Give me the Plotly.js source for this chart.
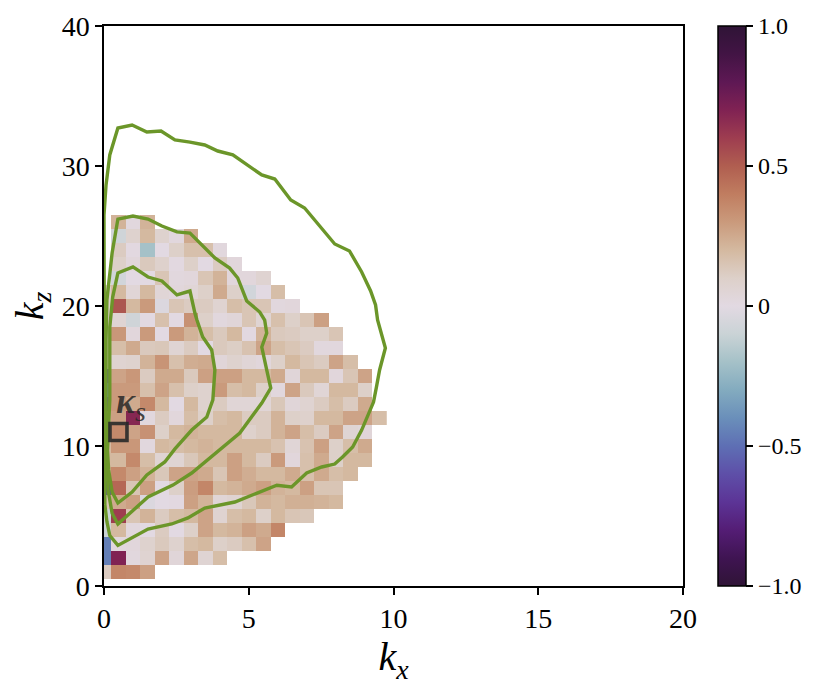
<!DOCTYPE html>
<html>
<head>
<meta charset="utf-8">
<script src="https://cdn.plot.ly/plotly-3.0.1.min.js"></script>
<style>html,body{margin:0;padding:0;background:#fff}</style>
</head>
<body>
<div id="chart" style="width:830px;height:687px"></div>
<script>
var kxCells = [0,0.5,1,1.5,2,2.5,3,3.5,4,4.5,5,5.5,6,6.5,7,7.5,8,8.5,9,9.5];
var kzCells = [1,2,3,4,5,6,7,8,9,10,11,12,13,14,15,16,17,18,19,20,21,22,23,24,25,26];

// one row per kz, starting at kz = 1, rows stop where the data stops
var cellRows = [
  [.12,.37,.36,.28],
  [-.45,.7,.02,.07,.27,.04,.26,.06,.18],
  [-.45,.02,.03,.08,.13,.08,.18,.2,.1,.12,.17,.27],
  [-.1,.2,.02,0,.12,0,.1,.27,.2,.22,.28,.25,.37],
  [-.1,.6,.15,.22,.12,.18,.2,.27,.07,.18,.2,.1,.2,.15,.14],
  [.15,.25,.28,-.03,0,.01,.28,.22,.05,.07,.14,.22,.2,.23,.23,.22,.2],
  [-.6,.47,.15,.28,0,.1,.29,.37,.2,.22,.25,.28,.22,.2,.28,.15,.15],
  [.25,.36,.28,.22,.14,.27,.27,.25,.15,.28,.24,.2,.2,.25,.17,.25,.18,.2],
  [.2,.2,.36,.18,.06,.06,.14,.2,.2,.28,.2,.12,.3,.03,.17,.25,.1,.2,.2],
  [.2,.31,.31,.02,.2,.18,.2,.22,.2,.2,.2,.2,.16,.05,.16,.28,.1,.18,.25],
  [.2,.36,.27,.33,.1,.2,.22,.2,.2,.2,.09,.12,.22,.27,.18,.12,.27,.06,.04],
  [.2,.28,.68,.02,.12,.03,.18,.1,.18,.2,.12,.12,.22,.1,.09,.2,.2,.27,.27,.18],
  [-.6,.3,.25,.36,.2,0,.2,.08,.12,.05,.05,.05,.14,.04,.07,.12,.18,.12,.25],
  [-.4,.3,.3,.17,.27,.17,.1,.08,.3,.18,.2,.1,.02,.27,.13,.05,.2,.2,.1],
  [-.6,.27,.31,.12,.25,.25,.13,.28,.28,.28,.2,.2,.25,.04,.2,.2,.03,.15,.27],
  [.1,.07,.08,.22,.32,.17,.24,.25,.04,.08,.05,.03,.1,.2,.15,.12,.27,.18],
  [.1,.18,.25,.13,.14,.06,.12,0,.13,.11,.16,.27,.18,.15,.12,.02,.02],
  [.1,.31,.03,.3,0,.3,.22,.18,.13,.2,.01,.22,.13,.12,.1,.1,.15],
  [.1,.06,-.08,0,.17,0,.33,.1,.02,.04,.15,.06,.17,.1,.15,.28],
  [.1,.52,.2,.3,-.03,.15,.12,.12,.07,.18,.15,.15,.02,.03],
  [.1,.2,.05,.2,.05,.03,.05,.1,.25,.1,-.07,0,.18],
  [null,-.07,0,0,.15,.02,.03,.15,.22,.03,.03,.07],
  [null,.1,.03,.13,.09,.01,.1,0,.12,.03],
  [null,.12,.01,-.2,0,.1,.17,.17,.02],
  [null,-.08,.08,.2,.08,.02,.25],
  [null,.22,.02,.22]
];

var outerKx = [.03,.1,.2,.48,1.52,2.34,2.9,3.48,4.52,5.38,5.97,6.48,7,7.52,7.97,8.24,8.59,8.9,9.1,9.31,9.41,9.52,9.72,9.59,9.45,9.38,9.21,8.9,8.48,7.97,7.45,6.93,6.45,5.9,5.45,4.97,4.45,3.93,3.48,2.97,2.45,1.97,1.48,.97,.48,.2,.07,0,0,.02,.03];
var outerKz = [5.8,4.6,3.6,2.9,4.07,4.43,4.86,5.57,6,6.71,7.2,7.07,8.07,8.5,8.71,9.21,9.93,11.14,12.07,13.14,14.21,15.43,17,18.07,19,20.07,21.07,22.43,23.93,24.43,25.71,27,27.57,29.07,29.36,30.07,30.79,31.07,31.5,31.71,31.86,32.5,32.43,32.93,32.71,30.79,28.64,26.5,20.4,9.7,5.8];

var middleKx = [.1,.14,.28,.48,1.52,2.38,3.03,3.66,4.69,5.45,5.76,5.62,5.45,5.62,5.55,5.38,4.93,4.62,4.34,3.83,3.38,2.97,2.52,2,1.52,1,.48,.28,.1,.07,.07,.1];
var middleKz = [9.71,6.86,5.2,4.43,6.36,7.21,8.07,9.14,10.93,13.07,14.14,15.43,17.07,18.07,19,19.57,20.36,22,22.71,23.43,24.36,25.21,25.29,25.71,26.21,26.43,26.21,23.79,20.43,17.57,13.29,9.71];

var innerKx = [.12,.16,.28,.48,.97,1.48,2.1,2.45,3.03,3.55,3.76,3.83,3.72,3.41,3.21,3.14,2.97,2.52,2,1.52,1,.48,.3,.2,.2,.2,.12];
var innerKz = [9.71,8.29,6.71,5.93,6.71,7.93,8.86,9.79,11.14,12.07,13.29,15.43,16.86,17.79,19,19.5,21.07,20.79,21.79,22.07,22.79,22.36,20.64,18.5,16.86,13.29,9.71];

var kappaKx = [0.5];
var kappaKz = [11];

var colorbarVals = [-1,-0.5,0,0.5,1];
var colorbarText = ['\u22121.0','\u22120.5','0','0.5','1.0'];

// twilight_shifted
var twilightShifted = [
  [0,'#2f1436'],[0.05,'#3f1452'],[0.1,'#541d75'],[0.15,'#5c3496'],[0.2,'#5e4fa8'],
  [0.25,'#5e6fb4'],[0.3,'#6a8fba'],[0.35,'#83abbf'],[0.4,'#a5c1c8'],[0.45,'#cad3d6'],
  [0.5,'#e2d9e2'],[0.55,'#ddd0c9'],[0.6,'#d4b9a0'],[0.65,'#ca9a7c'],[0.7,'#c07d60'],
  [0.75,'#b05e50'],[0.8,'#9e3d50'],[0.85,'#802253'],[0.9,'#5e1854'],[0.95,'#421444'],[1,'#2f1436']
];

var serif = '"Liberation Serif", serif';
var green = '#6b9629';

function padRow(row){
  var out = [];
  for (var i = 0; i < kxCells.length; i++) out.push(i < row.length ? row[i] : null);
  return out;
}

function contourTrace(xs, zs){
  return {x: xs, y: zs, type: 'scatter', mode: 'lines', line: {color: green, width: 3.4}, showlegend: false, hoverinfo: 'skip', cliponaxis: false};
}

var traces = [
  {x: kxCells, y: kzCells, z: cellRows.map(padRow), type: 'heatmap', zmin: -1, zmax: 1, colorscale: twilightShifted, hoverongaps: false,
   colorbar: {x: 1.0605, xanchor: 'left', xref: 'paper', xpad: 0, y: 0, yanchor: 'bottom', yref: 'paper', ypad: 0, len: 1, lenmode: 'fraction', thickness: 28, thicknessmode: 'pixels',
     outlinewidth: 1.5, outlinecolor: '#000', tickmode: 'array', tickvals: colorbarVals, ticktext: colorbarText, ticks: 'outside', ticklen: 7, tickwidth: 1.5, tickcolor: '#000',
     tickfont: {family: serif, size: 24, color: '#000'}}},
  contourTrace(outerKx, outerKz),
  contourTrace(middleKx, middleKz),
  contourTrace(innerKx, innerKz),
  {x: kappaKx, y: kappaKz, type: 'scatter', mode: 'markers', showlegend: false, hoverinfo: 'skip',
   marker: {symbol: 'square-open', size: 17, color: 'rgba(40,40,40,0.9)', line: {color: 'rgba(40,40,40,0.9)', width: 3.6}}}
];

var layout = {
  width: 830, height: 687, showlegend: false,
  margin: {l: 104, r: 147, t: 26, b: 101, pad: 0},
  paper_bgcolor: '#fff', plot_bgcolor: '#fff',
  xaxis: {range: [0, 20], tickvals: [0,5,10,15,20], ticks: 'outside', ticklen: 7, tickwidth: 1.5, tickcolor: '#000', showgrid: false, zeroline: false,
    showline: true, mirror: true, linecolor: '#000', linewidth: 1.5, tickfont: {family: serif, size: 28, color: '#000'},
    title: {text: '<i>k</i><sub><i>x</i></sub>', font: {family: serif, size: 40, color: '#000'}, standoff: 4}},
  yaxis: {range: [0, 40], tickvals: [0,10,20,30,40], ticks: 'outside', ticklen: 7, tickwidth: 1.5, tickcolor: '#000', showgrid: false, zeroline: false,
    showline: true, mirror: true, linecolor: '#000', linewidth: 1.5, tickfont: {family: serif, size: 28, color: '#000'},
    title: {text: '<i>k</i><sub><i>z</i></sub>', font: {family: serif, size: 40, color: '#000'}, standoff: 6}},
  annotations: [{x: 0.35, y: 13, xref: 'x', yref: 'y', xanchor: 'left', yanchor: 'middle', showarrow: false,
    text: '<b><i>\u03ba</i></b><sub><span style="font-size:28px"><i>s</i></span></sub>', font: {family: serif, size: 36, color: 'rgba(40,40,40,0.85)'}}]
};

Plotly.newPlot('chart', traces, layout, {displayModeBar: false, responsive: false});
</script>
</body>
</html>
